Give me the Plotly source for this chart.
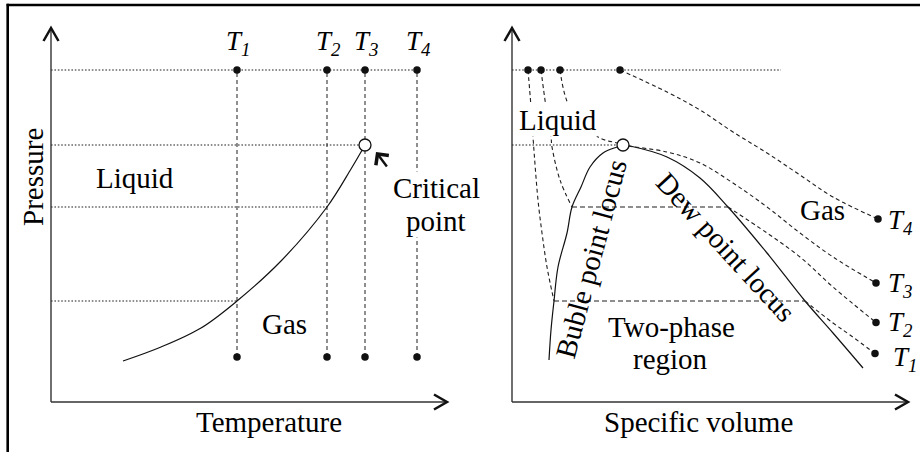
import plotly.graph_objects as go

# ---------------------------------------------------------------
# Pressure–temperature (left) and pressure–specific volume (right)
# diagrams of a pure substance, schematic units.
# ---------------------------------------------------------------

# Isotherm temperatures T1..T4 and their subscripts
temps = [186, 276, 314, 366]
temp_ids = ["1", "2", "3", "4"]

# Pressure levels
p_top = 332          # upper end of the isotherm sweep
p_bottom = 45        # lower end of the isotherm sweep (left panel)
p_crit = 257         # critical pressure
t_crit = 314         # critical temperature
v_crit = 111         # critical specific volume
sat_pressures = [101, 195]   # saturation pressures at T1 and T2

# Vapour-pressure curve (left panel)
vp_temp = [72, 110, 150, 186, 230, 276, 300, 314]
vp_pres = [41, 55, 74, 101, 141, 195, 233, 257]

# Saturation dome: bubble branch -> critical point -> dew branch
dome_vol = [37, 39, 42, 46, 55, 60, 69, 78, 91, 105, 111, 118, 155, 188, 216, 255, 293, 321, 351]
dome_pres = [42, 72, 101, 135, 169, 195, 215, 235, 249, 255, 257, 256, 245, 224, 195, 149, 101, 69, 34]

# Isotherms in the P–v plane
iso1_liq_vol = [16, 19, 21, 26, 30, 35, 42]
iso1_liq_pres = [332, 295, 265, 202, 169, 135, 101]
iso1_vap_vol = [293, 321, 338, 363]
iso1_vap_pres = [101, 79, 67, 48.5]

iso2_liq_vol = [29, 34, 39, 40, 48, 60]
iso2_liq_pres = [332, 295, 265, 255, 222, 195]
iso2_vap_vol = [216, 255, 288, 321, 364]
iso2_vap_pres = [195, 169, 145, 115, 79.5]

iso3_vol = [48, 58, 86, 105, 111, 155, 188, 221, 255, 288, 321, 364]
iso3_pres = [332, 294, 265, 259, 257, 250, 239, 219, 195, 169, 145, 119]

iso4_vol = [108, 155, 188, 221, 255, 288, 321, 366]
iso4_pres = [332, 310, 292, 270, 249, 227, 205, 183]

# Two-phase tie lines (bubble volume, dew volume) at the saturation pressures
tie_vol = [[42, 293], [60, 216]]

# Extent of the top reference line in the P–v plane
pv_top_line_end = 269

# ---------------------------------------------------------------
FONT = "Liberation Serif"
LABEL_SIZE = 29
T_SIZE = 27
INK = "#111111"
THIN = "#1e1e1e"

AXIS_LEN_X = 396
AXIS_LEN_Y = 374

fig = go.Figure()


def line(x, y, xa, ya, dash="solid", width=1.1, color=THIN, shape="linear"):
    fig.add_trace(go.Scatter(
        x=x, y=y, xaxis=xa, yaxis=ya, mode="lines",
        line=dict(color=color, width=width, dash=dash, shape=shape, smoothing=1.0),
        hoverinfo="skip"))


def dots(x, y, xa, ya):
    fig.add_trace(go.Scatter(
        x=x, y=y, xaxis=xa, yaxis=ya, mode="markers",
        marker=dict(size=7.5, color=INK), hoverinfo="skip"))


def crit_marker(x, y, xa, ya):
    fig.add_trace(go.Scatter(
        x=[x], y=[y], xaxis=xa, yaxis=ya, mode="markers",
        marker=dict(size=12, color="white", line=dict(color=INK, width=1.3)),
        hoverinfo="skip"))


DOT = "1.6px,1.8px"
DASH = "4px,3px"
TIE = "5px,3px"

# ---------------- left panel: P–T ----------------
# horizontal reference lines
line([0, temps[3]], [p_top, p_top], "x", "y", dash=DOT)
line([0, t_crit], [p_crit, p_crit], "x", "y", dash=DOT)
line([0, temps[1]], [sat_pressures[1]] * 2, "x", "y", dash=DOT)
line([0, temps[0]], [sat_pressures[0]] * 2, "x", "y", dash=DOT)
# isotherm verticals
for t in temps:
    line([t, t], [p_bottom, p_top], "x", "y", dash=DASH, color="#333333")
# vapour-pressure curve
line(vp_temp, vp_pres, "x", "y", width=1.2, color=INK, shape="spline")
dots(temps + temps, [p_top] * 4 + [p_bottom] * 4, "x", "y")
crit_marker(t_crit, p_crit, "x", "y")

# ---------------- right panel: P–v ----------------
line([0, pv_top_line_end], [p_top, p_top], "x2", "y2", dash=DOT)
line([0, v_crit], [p_crit, p_crit], "x2", "y2", dash=DOT)
line(dome_vol, dome_pres, "x2", "y2", width=1.2, color=INK, shape="spline")
line(iso1_liq_vol, iso1_liq_pres, "x2", "y2", dash=DASH, shape="spline")
line(iso1_vap_vol, iso1_vap_pres, "x2", "y2", dash=DASH, shape="spline")
line(iso2_liq_vol, iso2_liq_pres, "x2", "y2", dash=DASH, shape="spline")
line(iso2_vap_vol, iso2_vap_pres, "x2", "y2", dash=DASH, shape="spline")
line(iso3_vol, iso3_pres, "x2", "y2", dash=DASH, shape="spline")
line(iso4_vol, iso4_pres, "x2", "y2", dash=DASH, shape="spline")
for (vl, vg), p in zip(tie_vol, sat_pressures):
    line([vl, vg], [p, p], "x2", "y2", dash=TIE)
top_vols = [iso1_liq_vol[0], iso2_liq_vol[0], iso3_vol[0], iso4_vol[0]]
end_vols = [iso1_vap_vol[-1], iso2_vap_vol[-1], iso3_vol[-1], iso4_vol[-1]]
end_pres = [iso1_vap_pres[-1], iso2_vap_pres[-1], iso3_pres[-1], iso4_pres[-1]]
dots(top_vols, [p_top] * 4, "x2", "y2")
dots(end_vols, end_pres, "x2", "y2")
crit_marker(v_crit, p_crit, "x2", "y2")

# ---------------- axes drawn as arrows ----------------
shapes = []
for xr, yr in (("x", "y"), ("x2", "y2")):
    shapes.append(dict(type="line", xref=xr, yref=yr, x0=0, y0=0, x1=0, y1=AXIS_LEN_Y,
                       line=dict(color="#333333", width=1.4)))
    shapes.append(dict(type="line", xref=xr, yref=yr, x0=0, y0=0, x1=AXIS_LEN_X, y1=0,
                       line=dict(color="#333333", width=1.4)))
    shapes.append(dict(type="path", xref=xr, yref=yr,
                       path=f"M -7.5,{AXIS_LEN_Y - 13} L 0,{AXIS_LEN_Y} L 7.5,{AXIS_LEN_Y - 13}",
                       line=dict(color=INK, width=2.5)))
    shapes.append(dict(type="path", xref=xr, yref=yr,
                       path=f"M {AXIS_LEN_X - 13},7.5 L {AXIS_LEN_X},0 L {AXIS_LEN_X - 13},-7.5",
                       line=dict(color=INK, width=2.5)))

# outer frame (top and left rules)
shapes.append(dict(type="line", xref="paper", yref="paper", x0=0.0072, x1=1.0,
                   y0=1 - 5 / 452, y1=1 - 5 / 452, line=dict(color="black", width=2.6)))
shapes.append(dict(type="line", xref="paper", yref="paper", x0=7.7 / 920, x1=7.7 / 920,
                   y0=0, y1=1 - 3.8 / 452, line=dict(color="black", width=2.6)))

# ---------------- text ----------------
ann = []


def text(s, x, y, xr, yr, size=LABEL_SIZE, angle=0, bg=None, **kw):
    d = dict(text=s, x=x, y=y, xref=xr, yref=yr, showarrow=False,
             font=dict(family=FONT, size=size, color="black"),
             textangle=angle, xanchor="center", yanchor="middle")
    if bg:
        d.update(bgcolor=bg, borderpad=0)
    d.update(kw)
    ann.append(d)


text("Temperature", 218, -19.5, "x", "y")
text("Pressure", -18.5, 224.5, "x", "y", angle=-90)
text("Specific volume", 186, -19.5, "x2", "y2")

text("Liquid", 84, 224, "x", "y")
text("Gas", 233, 78, "x", "y")
text("Critical", 385.5, 214.5, "x", "y", bg="white")
text("point", 385, 181, "x", "y", bg="white")

text("Liquid", 46, 282.5, "x2", "y2", bg="white")
text("Gas", 310, 192, "x2", "y2")
text("Two-phase", 159, 75.5, "x2", "y2")
text("region", 158, 43, "x2", "y2")
text("Buble point locus", 79, 143, "x2", "y2", angle=-75)
text("Dew point locus", 214, 155, "x2", "y2", angle=47.5)

# isotherm labels above the P–T diagram
for t, k in zip(temps, temp_ids):
    text(f"<i>T<sub>{k}</sub></i>", t + 1, 359.5, "x", "y", size=T_SIZE)

# isotherm labels at the ends of the P–v curves
t_label_dx = [16, 10, 10, 8]
t_label_dy = [-5.5, -1, -2, -2.5]
for v, p, k, dx, dy in zip(end_vols, end_pres, temp_ids, t_label_dx, t_label_dy):
    text(f"<i>T<sub>{k}</sub></i>", v, p, "x2", "y2", size=T_SIZE,
         xanchor="left", xshift=dx, yshift=dy)

# arrow pointing at the critical point
ann.append(dict(x=325, y=250, xref="x", yref="y", text="", showarrow=True,
                ax=12, ay=16, arrowhead=4, arrowwidth=2.4, arrowsize=1.3,
                arrowcolor=INK, standoff=0))

fig.update_layout(
    width=920, height=452,
    margin=dict(l=0, r=0, t=0, b=0),
    paper_bgcolor="white", plot_bgcolor="white",
    showlegend=False,
    shapes=shapes, annotations=ann,
    xaxis=dict(domain=[0, 0.5], range=[-51, 409], visible=False, fixedrange=True),
    yaxis=dict(domain=[0, 1], range=[-50, 402], visible=False, fixedrange=True),
    xaxis2=dict(domain=[0.5, 1], range=[-52, 408], visible=False, anchor="y2", fixedrange=True),
    yaxis2=dict(domain=[0, 1], range=[-50, 402], visible=False, anchor="x2", fixedrange=True),
)

fig.write_html("out.html")
